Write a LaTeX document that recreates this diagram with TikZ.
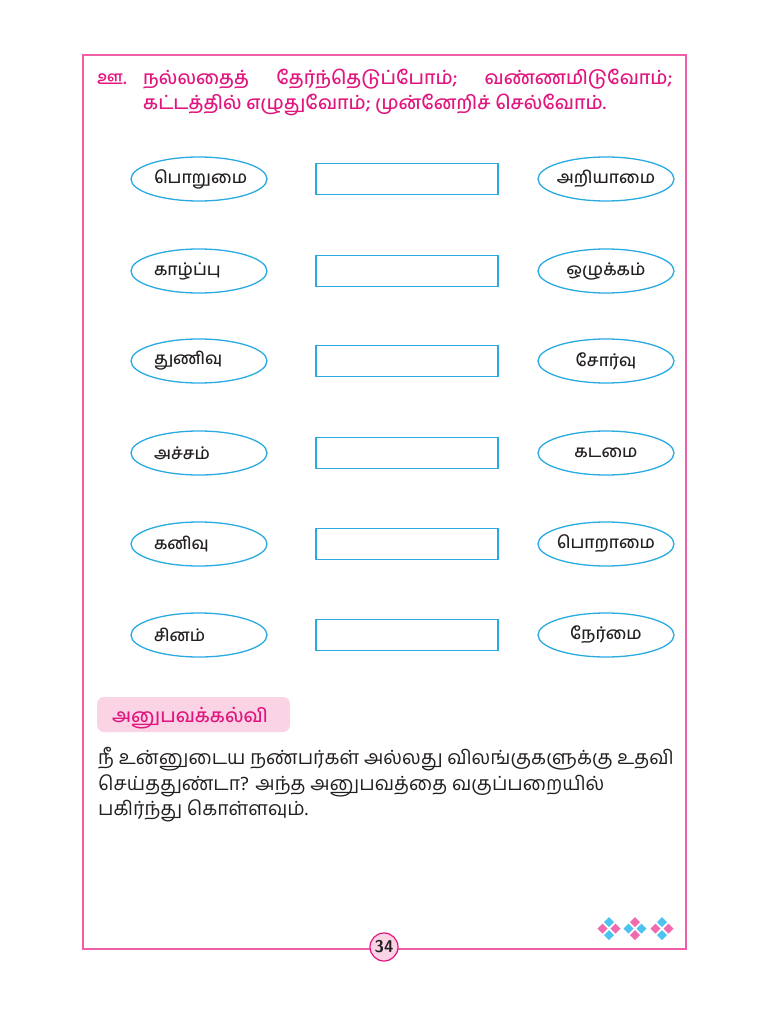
\documentclass[tikz,border=0pt]{standalone}
\usepackage{fontspec}
\newfontfamily\tamil[Script=Tamil]{Hind Madurai}
\newfontfamily\tamilmid[Script=Tamil]{Hind Madurai Medium}
\usetikzlibrary{shapes.geometric}
\definecolor{framepink}{HTML}{EE5FA7}
\definecolor{headpink}{HTML}{E2157F}
\definecolor{ovalblue}{HTML}{29ABE2}
\definecolor{boxpink}{HTML}{FAD3E4}
\definecolor{gemblue}{HTML}{4CC4EF}
\definecolor{gempink}{HTML}{EF6AAE}
\definecolor{inkgray}{HTML}{231F20}
\def\gem[#1](#2,#3){\fill[#1] (#2,#3-5) -- (#2+5,#3) -- (#2,#3+5) -- (#2-5,#3) -- cycle;}
\def\gemgroup(#1,#2)#3#4{\gem[#3](#1,#2-6.5)\gem[#3](#1,#2+6.5)\gem[#4](#1-6.5,#2)\gem[#4](#1+6.5,#2)}
\tikzset{
  wordoval/.style={ellipse, draw=ovalblue, line width=1.3pt, minimum width=136pt,
    minimum height=44pt, inner ysep=0pt, inner xsep=-8pt, text=inkgray, font=\tamilmid\fontsize{17}{19}\selectfont},
  answerbox/.style={rectangle, draw=ovalblue, line width=1.3pt, minimum width=182pt,
    minimum height=31pt, inner sep=0pt},
  headline/.style={anchor=base west, inner sep=0pt, text=headpink, font=\tamilmid\fontsize{19}{22}\selectfont},
  bodyline/.style={anchor=base west, inner sep=0pt, text=inkgray, font=\tamil\fontsize{19.5}{22}\selectfont}
}
\begin{document}
\begin{tikzpicture}[x=1pt, y=-1pt]
			%%%%% START %%%%%
			
			\fill[white] (0, 0) rectangle (767, 1024);
			\useasboundingbox (0, 0) rectangle (767, 1024);
			
			\draw[framepink, line width=1.8pt] (83, 55) rectangle (686, 949);
			
			\node[headline] (mark) at (97, 85) {ஊ.};
			\node[headline] (head1) at (143, 85) {\hbox to 529pt{நல்லதைத்\hfill தேர்ந்தெடுப்போம்;\hfill வண்ணமிடுவோம்;}};
			\node[headline] (head2) at (143, 110) {கட்டத்தில் எழுதுவோம்; முன்னேறிச் செல்வோம்.};
			
			\node[wordoval, text width=90pt, align=left] (left1) at (199, 179) {பொறுமை};
			\node[answerbox] (box1) at (407, 179) {};
			\node[wordoval] (right1) at (606, 179) {அறியாமை};
			
			\node[wordoval, text width=90pt, align=left] (left2) at (199, 271) {காழ்ப்பு};
			\node[answerbox] (box2) at (407, 271) {};
			\node[wordoval] (right2) at (606, 271) {ஒழுக்கம்};
			
			\node[wordoval, text width=90pt, align=left] (left3) at (199, 361) {துணிவு};
			\node[answerbox] (box3) at (407, 361) {};
			\node[wordoval] (right3) at (606, 361) {சோர்வு};
			
			\node[wordoval, text width=90pt, align=left] (left4) at (199, 453) {அச்சம்};
			\node[answerbox] (box4) at (407, 453) {};
			\node[wordoval] (right4) at (606, 453) {கடமை};
			
			\node[wordoval, text width=90pt, align=left] (left5) at (199, 544) {கனிவு};
			\node[answerbox] (box5) at (407, 544) {};
			\node[wordoval] (right5) at (606, 544) {பொறாமை};
			
			\node[wordoval, text width=90pt, align=left] (left6) at (199, 635) {சினம்};
			\node[answerbox] (box6) at (407, 635) {};
			\node[wordoval] (right6) at (606, 635) {நேர்மை};
			
			\fill[boxpink, rounded corners=7pt] (97, 697) rectangle (290, 732);
			\node[headline] (topic) at (112, 722) {அனுபவக்கல்வி};
			
			\node[bodyline] (body1) at (98, 764) {நீ உன்னுடைய நண்பர்கள் அல்லது விலங்குகளுக்கு உதவி};
			\node[bodyline] (body2) at (98, 790) {செய்ததுண்டா? அந்த அனுபவத்தை வகுப்பறையில்};
			\node[bodyline] (body3) at (98, 815) {பகிர்ந்து கொள்ளவும்.};
			
			\gemgroup(609, 928.5){gemblue}{gempink}
			\gemgroup(635, 928.5){gempink}{gemblue}
			\gemgroup(662, 928.5){gemblue}{gempink}
			
			\node[circle, draw=headpink, fill=boxpink, line width=1.2pt, minimum size=28pt, inner sep=0pt,
			  text=inkgray, font=\sffamily\bfseries\fontsize{17}{18}\selectfont] (pagenum) at (384, 947) {34};
			
			%%%%% END %%%%%
\end{tikzpicture}
\end{document}
